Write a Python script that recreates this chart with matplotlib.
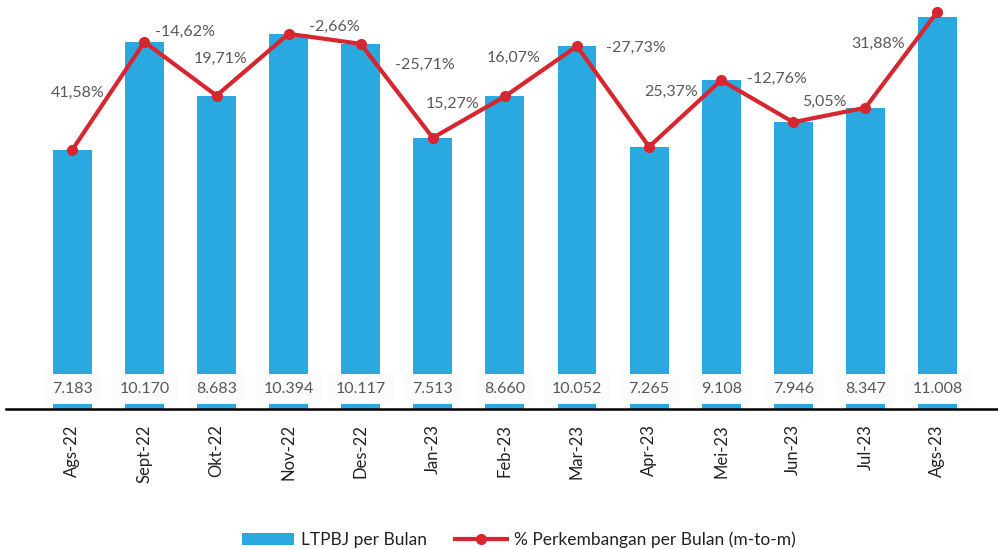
import numpy as np
import matplotlib
matplotlib.use("Agg")
import matplotlib.pyplot as plt

plt.rcParams['font.family'] = ['Lato', 'DejaVu Sans']

# data
bulan = ["Ags-22", "Sept-22", "Okt-22", "Nov-22", "Des-22", "Jan-23", "Feb-23",
         "Mar-23", "Apr-23", "Mei-23", "Jun-23", "Jul-23", "Ags-23"]
ltpbj = [7183, 10170, 8683, 10394, 10117, 7513, 8660, 10052, 7265, 9108, 7946, 8347, 11008]
nilai_label = ["7.183", "10.170", "8.683", "10.394", "10.117", "7.513", "8.660",
               "10.052", "7.265", "9.108", "7.946", "8.347", "11.008"]
# m-to-m change, belongs to months 1..12
persen_label = ["41,58%", "-14,62%", "19,71%", "-2,66%", "-25,71%", "15,27%",
                "16,07%", "-27,73%", "25,37%", "-12,76%", "5,05%", "31,88%"]

# label offsets (pixels) relative to the point of the month it belongs to
offsets = [(-67, -51), (-32, 64), (-68, -25), (-26, 17), (-8, 73), (-52, -7),
           (-63, -12), (-13, 99), (-50, -12), (-16, 43), (-41, 6), (-59, -32)]

biru = "#29A9E0"
merah = "#D7262F"
abu = "#595959"

fig = plt.figure(figsize=(9.98, 5.49), dpi=100)
ax = fig.add_axes([0.006, 0.255, 0.994, 0.714])

x = np.arange(len(bulan))
bars = ax.bar(x, ltpbj, width=0.54, color=biru, label="LTPBJ per Bulan", zorder=1)
line, = ax.plot(x, ltpbj, color=merah, lw=3, marker="o", markersize=7,
                label="% Perkembangan per Bulan (m-to-m)", clip_on=False, zorder=3)

# value labels at the bottom of each bar
for i, t in enumerate(nilai_label):
    ax.annotate(t, xy=(i, 0), xytext=(0, 20), textcoords="offset pixels",
                ha="center", va="center", fontsize=11.5, color=abu, zorder=2,
                bbox=dict(boxstyle="square,pad=0.5", fc="#FAFBFB", ec="none"))

# percentage labels
for k, t in enumerate(persen_label):
    i = k + 1
    ax.annotate(t, xy=(i, ltpbj[i]), xytext=offsets[k], textcoords="offset pixels",
                ha="center", va="center", fontsize=11.5, color=abu, zorder=4,
                annotation_clip=False)

ax.set_xlim(-0.92, 12.84)
ax.set_ylim(0, 10860)
ax.set_xticks(x)
ax.set_xticklabels(bulan, rotation=90, fontsize=12, color="#222222")
ax.tick_params(axis="x", length=0, pad=11)
ax.set_yticks([])
for s in ["left", "right", "top"]:
    ax.spines[s].set_visible(False)
ax.spines["bottom"].set_linewidth(1.8)
ax.spines["bottom"].set_color("black")

fig.legend(handles=[bars, line], loc="center", bbox_to_anchor=(0.52, 0.016), ncol=2,
           frameon=False, fontsize=12.5, handlelength=3.0, columnspacing=1.6,
           handletextpad=0.4, labelcolor="#222222")

fig.savefig("out.png", dpi=100)
